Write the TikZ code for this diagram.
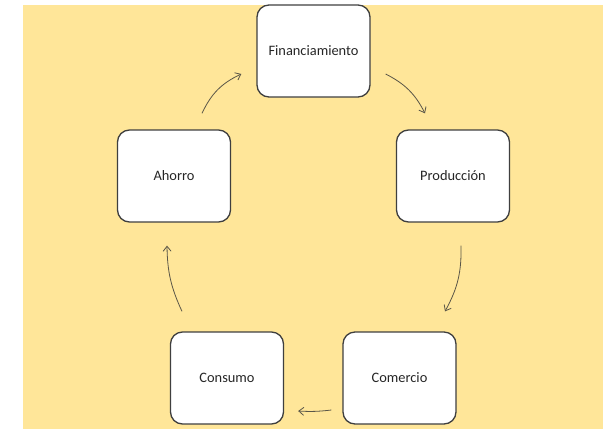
\documentclass[tikz,border=0pt]{standalone}
\usepackage{fontspec}
\setmainfont{Carlito}
\usetikzlibrary{arrows.meta}
\definecolor{bgyellow}{HTML}{FFE699}
\definecolor{boxline}{HTML}{3F3F3F}
\definecolor{arrline}{HTML}{5A5648}
\definecolor{txt}{HTML}{262626}
\begin{document}
\begin{tikzpicture}[x=1pt,y=-1pt,
  stagebox/.style={draw=boxline,line width=1.3pt,fill=white,rounded corners=12pt,
    minimum width=113pt,minimum height=92pt,inner sep=0pt,
    font=\fontsize{14.4}{16}\selectfont,text=txt},
  flowarr/.style={draw=arrline,line width=0.8pt,-{Straight Barb[length=5pt,width=8pt]}}]
\useasboundingbox (0,0) rectangle (603,429);
\fill[bgyellow] (23,5) rectangle (603,429);
\node[stagebox] (fin) at (313.5,51) {Financiamiento};
\node[stagebox] (ah) at (174,176) {Ahorro};
\node[stagebox] (prod) at (453,176) {Producción};
\node[stagebox] (cons) at (227,378) {Consumo};
\node[stagebox] (com) at (399.5,378) {Comercio};
\draw[flowarr] ([shift={(28,-16)}]ah.north) to[bend left=20] ([shift={(-15,23)}]fin.west);
\draw[flowarr] ([shift={(15,23)}]fin.east) to[bend left=18] ([shift={(-28,-16)}]prod.north);
\draw[flowarr] ([shift={(8,23)}]prod.south) to[bend left=15] ([shift={(45.5,-20)}]com.north);
\draw[flowarr] ([shift={(-11,32)}]com.west) to[bend left=5] ([shift={(14,33)}]cons.east);
\draw[flowarr] ([shift={(-45,-20)}]cons.north) to[bend left=12] ([shift={(-7,23)}]ah.south);
\end{tikzpicture}
\end{document}
